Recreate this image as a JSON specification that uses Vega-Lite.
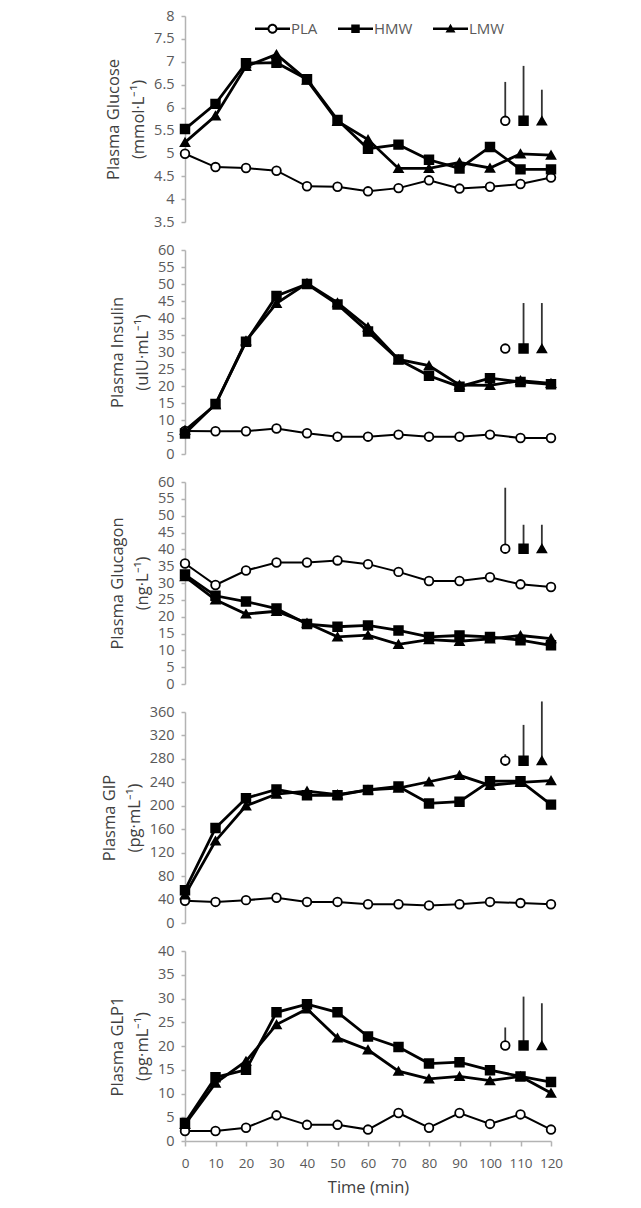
{
  "$schema": "https://vega.github.io/schema/vega-lite/v6.json",
  "background": "white",
  "padding": {"left": 101, "top": 8, "right": 5, "bottom": 5},
  "bounds": "flush",
  "spacing": 28,
  "datasets": {
    "main": [
      {"p":"glu","t":0,"PLA":4.99,"HMW":5.53,"LMW":5.24},
      {"p":"glu","t":10,"PLA":4.70,"HMW":6.08,"LMW":5.82},
      {"p":"glu","t":20,"PLA":4.68,"HMW":6.97,"LMW":6.90},
      {"p":"glu","t":30,"PLA":4.62,"HMW":6.98,"LMW":7.16},
      {"p":"glu","t":40,"PLA":4.28,"HMW":6.62,"LMW":6.60},
      {"p":"glu","t":50,"PLA":4.27,"HMW":5.73,"LMW":5.70},
      {"p":"glu","t":60,"PLA":4.17,"HMW":5.10,"LMW":5.30},
      {"p":"glu","t":70,"PLA":4.24,"HMW":5.19,"LMW":4.67},
      {"p":"glu","t":80,"PLA":4.41,"HMW":4.86,"LMW":4.67},
      {"p":"glu","t":90,"PLA":4.23,"HMW":4.67,"LMW":4.80},
      {"p":"glu","t":100,"PLA":4.27,"HMW":5.14,"LMW":4.68},
      {"p":"glu","t":110,"PLA":4.33,"HMW":4.65,"LMW":4.99},
      {"p":"glu","t":120,"PLA":4.47,"HMW":4.65,"LMW":4.96},
      {"p":"ins","t":0,"PLA":6.8,"HMW":6.0,"LMW":7.0},
      {"p":"ins","t":10,"PLA":6.7,"HMW":14.7,"LMW":14.5},
      {"p":"ins","t":20,"PLA":6.7,"HMW":33.0,"LMW":33.3},
      {"p":"ins","t":30,"PLA":7.5,"HMW":46.5,"LMW":44.3},
      {"p":"ins","t":40,"PLA":6.1,"HMW":50.0,"LMW":50.2},
      {"p":"ins","t":50,"PLA":5.1,"HMW":44.0,"LMW":44.5},
      {"p":"ins","t":60,"PLA":5.1,"HMW":36.0,"LMW":37.3},
      {"p":"ins","t":70,"PLA":5.7,"HMW":27.8,"LMW":27.8},
      {"p":"ins","t":80,"PLA":5.1,"HMW":23.0,"LMW":26.0},
      {"p":"ins","t":90,"PLA":5.1,"HMW":19.8,"LMW":20.3},
      {"p":"ins","t":100,"PLA":5.7,"HMW":22.3,"LMW":20.2},
      {"p":"ins","t":110,"PLA":4.7,"HMW":21.2,"LMW":21.6},
      {"p":"ins","t":120,"PLA":4.7,"HMW":20.5,"LMW":20.8},
      {"p":"gcg","t":0,"PLA":35.8,"HMW":32.5,"LMW":31.9},
      {"p":"gcg","t":10,"PLA":29.4,"HMW":26.2,"LMW":25.0},
      {"p":"gcg","t":20,"PLA":33.7,"HMW":24.5,"LMW":20.8},
      {"p":"gcg","t":30,"PLA":36.1,"HMW":22.4,"LMW":21.6},
      {"p":"gcg","t":40,"PLA":36.1,"HMW":17.8,"LMW":18.1},
      {"p":"gcg","t":50,"PLA":36.7,"HMW":17.0,"LMW":14.0},
      {"p":"gcg","t":60,"PLA":35.6,"HMW":17.4,"LMW":14.5},
      {"p":"gcg","t":70,"PLA":33.3,"HMW":15.9,"LMW":11.8},
      {"p":"gcg","t":80,"PLA":30.6,"HMW":14.0,"LMW":13.2},
      {"p":"gcg","t":90,"PLA":30.6,"HMW":14.4,"LMW":12.7},
      {"p":"gcg","t":100,"PLA":31.7,"HMW":14.0,"LMW":13.4},
      {"p":"gcg","t":110,"PLA":29.6,"HMW":13.0,"LMW":14.4},
      {"p":"gcg","t":120,"PLA":28.8,"HMW":11.5,"LMW":13.5},
      {"p":"gip","t":0,"PLA":38,"HMW":56,"LMW":48},
      {"p":"gip","t":10,"PLA":36,"HMW":162,"LMW":140},
      {"p":"gip","t":20,"PLA":39,"HMW":213,"LMW":200},
      {"p":"gip","t":30,"PLA":43,"HMW":228,"LMW":220},
      {"p":"gip","t":40,"PLA":36,"HMW":218,"LMW":225},
      {"p":"gip","t":50,"PLA":36,"HMW":218,"LMW":219},
      {"p":"gip","t":60,"PLA":32,"HMW":227,"LMW":227},
      {"p":"gip","t":70,"PLA":32,"HMW":233,"LMW":230},
      {"p":"gip","t":80,"PLA":30,"HMW":204,"LMW":241},
      {"p":"gip","t":90,"PLA":32,"HMW":207,"LMW":252},
      {"p":"gip","t":100,"PLA":36,"HMW":242,"LMW":235},
      {"p":"gip","t":110,"PLA":34,"HMW":242,"LMW":240},
      {"p":"gip","t":120,"PLA":32,"HMW":202,"LMW":243},
      {"p":"glp","t":0,"PLA":2.1,"HMW":3.8,"LMW":3.5},
      {"p":"glp","t":10,"PLA":2.1,"HMW":13.4,"LMW":12.2},
      {"p":"glp","t":20,"PLA":2.8,"HMW":15.0,"LMW":16.8},
      {"p":"glp","t":30,"PLA":5.4,"HMW":27.1,"LMW":24.5},
      {"p":"glp","t":40,"PLA":3.4,"HMW":28.8,"LMW":27.8},
      {"p":"glp","t":50,"PLA":3.4,"HMW":27.1,"LMW":21.7},
      {"p":"glp","t":60,"PLA":2.4,"HMW":22.0,"LMW":19.2},
      {"p":"glp","t":70,"PLA":5.9,"HMW":19.8,"LMW":14.7},
      {"p":"glp","t":80,"PLA":2.8,"HMW":16.3,"LMW":13.1},
      {"p":"glp","t":90,"PLA":5.9,"HMW":16.6,"LMW":13.6},
      {"p":"glp","t":100,"PLA":3.6,"HMW":14.9,"LMW":12.7},
      {"p":"glp","t":110,"PLA":5.6,"HMW":13.6,"LMW":13.6},
      {"p":"glp","t":120,"PLA":2.4,"HMW":12.4,"LMW":10.1}
    ],
    "err": [
      {"p":"glu","s":"PLA","t":105,"v":5.71,"top":6.56},
      {"p":"glu","s":"HMW","t":111,"v":5.71,"top":6.91},
      {"p":"glu","s":"LMW","t":117,"v":5.71,"top":6.39},
      {"p":"ins","s":"PLA","t":105,"v":31,"top":31},
      {"p":"ins","s":"HMW","t":111,"v":31,"top":44.4},
      {"p":"ins","s":"LMW","t":117,"v":31,"top":44.4},
      {"p":"gcg","s":"PLA","t":105,"v":40.2,"top":58.3},
      {"p":"gcg","s":"HMW","t":111,"v":40.2,"top":47.3},
      {"p":"gcg","s":"LMW","t":117,"v":40.2,"top":47.3},
      {"p":"gip","s":"PLA","t":105,"v":277,"top":288},
      {"p":"gip","s":"HMW","t":111,"v":277,"top":338},
      {"p":"gip","s":"LMW","t":117,"v":277,"top":378},
      {"p":"glp","s":"PLA","t":105,"v":20.1,"top":23.9},
      {"p":"glp","s":"HMW","t":111,"v":20.1,"top":30.4},
      {"p":"glp","s":"LMW","t":117,"v":20.1,"top":29}
    ]
  },
  "vconcat": [
    {
      "width": 366, "height": 206,
      "encoding": {
        "x": {"field":"t","type":"quantitative","scale":{"domain":[0,120],"nice":false},"axis":null},
        "y": {"field":"v","type":"quantitative","scale":{"domain":[3.5,8],"nice":false,"zero":false},
              "axis":{"values":[3.5,4,4.5,5,5.5,6,6.5,7,7.5,8],"format":"~g","title":["Plasma Glucose","(mmol·L⁻¹)"]}}
      },
      "layer": [
        {"data":{"name":"main"},"transform":[{"filter":"datum.p === 'glu'"},{"fold":["PLA","HMW","LMW"],"as":["s","v"]}],
         "mark":{"type":"point","filled":true,"color":"black","strokeWidth":0,"size":75,"opacity":0},
         "encoding":{
           "shape":{"field":"s","type":"nominal","scale":{"domain":["PLA","HMW","LMW"],
              "range":["M-3.5,-0.25H-0.9V0.25H-3.5ZM0.9,-0.25H3.5V0.25H0.9ZM1,0A1,1,0,1,1,-1,0A1,1,0,1,1,1,0ZM0.62,0A0.62,0.62,0,1,0,-0.62,0A0.62,0.62,0,1,0,0.62,0Z",
                       "M-3.5,-0.25H3.5V0.25H-3.5ZM-0.85,-0.85H0.85V0.85H-0.85Z",
                       "M-3.5,-0.25H3.5V0.25H-3.5ZM0,-1L1,0.75H-1Z"]},
             "legend":{"orient":"none","legendX":80,"legendY":5,"direction":"horizontal","title":null,
               "symbolSize":100,"symbolStrokeWidth":0,"symbolOpacity":1,"symbolFillColor":"black",
               "labelFont":"Open Sans","labelFontSize":15,"labelColor":"#595959","labelOffset":11,"columnPadding":20}}}},
        {"data":{"name":"main"},"transform":[{"filter":"datum.p === 'glu'"},{"fold":["PLA","HMW","LMW"],"as":["s","v"]}],
         "mark":{"type":"line","color":"black"},
         "encoding":{"detail":{"field":"s"},"strokeWidth":{"condition":{"test":"datum.s === 'PLA'","value":2},"value":2.8}}},
        {"data":{"name":"main"},"transform":[{"filter":"datum.p === 'glu'"},{"fold":["PLA","HMW","LMW"],"as":["s","v"]}],
         "mark":{"type":"point","size":75,"stroke":"black","strokeWidth":1.8,"opacity":1},
         "encoding":{
           "shape":{"field":"s","type":"nominal","scale":{"domain":["PLA","HMW","LMW"],"range":["circle","square","triangle-up"]},"legend":null},
           "fill":{"condition":{"test":"datum.s === 'PLA'","value":"white"},"value":"black"}}},
        {"data":{"name":"err"},"transform":[{"filter":"datum.p === 'glu'"}],
         "mark":{"type":"rule","color":"#333333","strokeWidth":1.8},
         "encoding":{"y2":{"field":"top"}}},
        {"data":{"name":"err"},"transform":[{"filter":"datum.p === 'glu'"}],
         "mark":{"type":"point","size":75,"stroke":"black","strokeWidth":1.8,"opacity":1},
         "encoding":{
           "shape":{"field":"s","type":"nominal","scale":{"domain":["PLA","HMW","LMW"],"range":["circle","square","triangle-up"]},"legend":null},
           "fill":{"condition":{"test":"datum.s === 'PLA'","value":"white"},"value":"black"}}}
      ],
      "resolve": {"scale": {"shape": "independent"}}
    },
    {
      "width": 366, "height": 204,
      "encoding": {
        "x": {"field":"t","type":"quantitative","scale":{"domain":[0,120],"nice":false},"axis":null},
        "y": {"field":"v","type":"quantitative","scale":{"domain":[0,60],"nice":false},
              "axis":{"values":[0,5,10,15,20,25,30,35,40,45,50,55,60],"title":["Plasma Insulin","(uIU·mL⁻¹)"]}}
      },
      "layer": [
        {"data":{"name":"main"},"transform":[{"filter":"datum.p === 'ins'"},{"fold":["PLA","HMW","LMW"],"as":["s","v"]}],
         "mark":{"type":"line","color":"black"},
         "encoding":{"detail":{"field":"s"},"strokeWidth":{"condition":{"test":"datum.s === 'PLA'","value":2},"value":2.8}}},
        {"data":{"name":"main"},"transform":[{"filter":"datum.p === 'ins'"},{"fold":["PLA","HMW","LMW"],"as":["s","v"]}],
         "mark":{"type":"point","size":75,"stroke":"black","strokeWidth":1.8,"opacity":1},
         "encoding":{
           "shape":{"field":"s","type":"nominal","scale":{"domain":["PLA","HMW","LMW"],"range":["circle","square","triangle-up"]},"legend":null},
           "fill":{"condition":{"test":"datum.s === 'PLA'","value":"white"},"value":"black"}}},
        {"data":{"name":"err"},"transform":[{"filter":"datum.p === 'ins'"}],
         "mark":{"type":"rule","color":"#333333","strokeWidth":1.8},
         "encoding":{"y2":{"field":"top"}}},
        {"data":{"name":"err"},"transform":[{"filter":"datum.p === 'ins'"}],
         "mark":{"type":"point","size":75,"stroke":"black","strokeWidth":1.8,"opacity":1},
         "encoding":{
           "shape":{"field":"s","type":"nominal","scale":{"domain":["PLA","HMW","LMW"],"range":["circle","square","triangle-up"]},"legend":null},
           "fill":{"condition":{"test":"datum.s === 'PLA'","value":"white"},"value":"black"}}}
      ]
    },
    {
      "width": 366, "height": 202,
      "encoding": {
        "x": {"field":"t","type":"quantitative","scale":{"domain":[0,120],"nice":false},"axis":null},
        "y": {"field":"v","type":"quantitative","scale":{"domain":[0,60],"nice":false},
              "axis":{"values":[0,5,10,15,20,25,30,35,40,45,50,55,60],"title":["Plasma Glucagon","(ng·L⁻¹)"]}}
      },
      "layer": [
        {"data":{"name":"main"},"transform":[{"filter":"datum.p === 'gcg'"},{"fold":["PLA","HMW","LMW"],"as":["s","v"]}],
         "mark":{"type":"line","color":"black"},
         "encoding":{"detail":{"field":"s"},"strokeWidth":{"condition":{"test":"datum.s === 'PLA'","value":2},"value":2.8}}},
        {"data":{"name":"main"},"transform":[{"filter":"datum.p === 'gcg'"},{"fold":["PLA","HMW","LMW"],"as":["s","v"]}],
         "mark":{"type":"point","size":75,"stroke":"black","strokeWidth":1.8,"opacity":1},
         "encoding":{
           "shape":{"field":"s","type":"nominal","scale":{"domain":["PLA","HMW","LMW"],"range":["circle","square","triangle-up"]},"legend":null},
           "fill":{"condition":{"test":"datum.s === 'PLA'","value":"white"},"value":"black"}}},
        {"data":{"name":"err"},"transform":[{"filter":"datum.p === 'gcg'"}],
         "mark":{"type":"rule","color":"#333333","strokeWidth":1.8},
         "encoding":{"y2":{"field":"top"}}},
        {"data":{"name":"err"},"transform":[{"filter":"datum.p === 'gcg'"}],
         "mark":{"type":"point","size":75,"stroke":"black","strokeWidth":1.8,"opacity":1},
         "encoding":{
           "shape":{"field":"s","type":"nominal","scale":{"domain":["PLA","HMW","LMW"],"range":["circle","square","triangle-up"]},"legend":null},
           "fill":{"condition":{"test":"datum.s === 'PLA'","value":"white"},"value":"black"}}}
      ]
    },
    {
      "width": 366, "height": 211,
      "encoding": {
        "x": {"field":"t","type":"quantitative","scale":{"domain":[0,120],"nice":false},"axis":null},
        "y": {"field":"v","type":"quantitative","scale":{"domain":[0,360],"nice":false},
              "axis":{"values":[0,40,80,120,160,200,240,280,320,360],"title":["Plasma GIP","(pg·mL⁻¹)"]}}
      },
      "layer": [
        {"data":{"name":"main"},"transform":[{"filter":"datum.p === 'gip'"},{"fold":["PLA","HMW","LMW"],"as":["s","v"]}],
         "mark":{"type":"line","color":"black"},
         "encoding":{"detail":{"field":"s"},"strokeWidth":{"condition":{"test":"datum.s === 'PLA'","value":2},"value":2.8}}},
        {"data":{"name":"main"},"transform":[{"filter":"datum.p === 'gip'"},{"fold":["PLA","HMW","LMW"],"as":["s","v"]}],
         "mark":{"type":"point","size":75,"stroke":"black","strokeWidth":1.8,"opacity":1},
         "encoding":{
           "shape":{"field":"s","type":"nominal","scale":{"domain":["PLA","HMW","LMW"],"range":["circle","square","triangle-up"]},"legend":null},
           "fill":{"condition":{"test":"datum.s === 'PLA'","value":"white"},"value":"black"}}},
        {"data":{"name":"err"},"transform":[{"filter":"datum.p === 'gip'"}],
         "mark":{"type":"rule","color":"#333333","strokeWidth":1.8},
         "encoding":{"y2":{"field":"top"}}},
        {"data":{"name":"err"},"transform":[{"filter":"datum.p === 'gip'"}],
         "mark":{"type":"point","size":75,"stroke":"black","strokeWidth":1.8,"opacity":1},
         "encoding":{
           "shape":{"field":"s","type":"nominal","scale":{"domain":["PLA","HMW","LMW"],"range":["circle","square","triangle-up"]},"legend":null},
           "fill":{"condition":{"test":"datum.s === 'PLA'","value":"white"},"value":"black"}}}
      ]
    },
    {
      "width": 366, "height": 190,
      "encoding": {
        "x": {"field":"t","type":"quantitative","scale":{"domain":[0,120],"nice":false},
              "axis":{"values":[0,10,20,30,40,50,60,70,80,90,100,110,120],"title":"Time (min)","labelFlush":false,"tickSize":5,"labelPadding":10,"titlePadding":10,"labelFontSize":13.5}},
        "y": {"field":"v","type":"quantitative","scale":{"domain":[0,40],"nice":false},
              "axis":{"values":[0,5,10,15,20,25,30,35,40],"title":["Plasma GLP1","(pg·mL⁻¹)"]}}
      },
      "layer": [
        {"data":{"name":"main"},"transform":[{"filter":"datum.p === 'glp'"},{"fold":["PLA","HMW","LMW"],"as":["s","v"]}],
         "mark":{"type":"line","color":"black"},
         "encoding":{"detail":{"field":"s"},"strokeWidth":{"condition":{"test":"datum.s === 'PLA'","value":2},"value":2.8}}},
        {"data":{"name":"main"},"transform":[{"filter":"datum.p === 'glp'"},{"fold":["PLA","HMW","LMW"],"as":["s","v"]}],
         "mark":{"type":"point","size":75,"stroke":"black","strokeWidth":1.8,"opacity":1},
         "encoding":{
           "shape":{"field":"s","type":"nominal","scale":{"domain":["PLA","HMW","LMW"],"range":["circle","square","triangle-up"]},"legend":null},
           "fill":{"condition":{"test":"datum.s === 'PLA'","value":"white"},"value":"black"}}},
        {"data":{"name":"err"},"transform":[{"filter":"datum.p === 'glp'"}],
         "mark":{"type":"rule","color":"#333333","strokeWidth":1.8},
         "encoding":{"y2":{"field":"top"}}},
        {"data":{"name":"err"},"transform":[{"filter":"datum.p === 'glp'"}],
         "mark":{"type":"point","size":75,"stroke":"black","strokeWidth":1.8,"opacity":1},
         "encoding":{
           "shape":{"field":"s","type":"nominal","scale":{"domain":["PLA","HMW","LMW"],"range":["circle","square","triangle-up"]},"legend":null},
           "fill":{"condition":{"test":"datum.s === 'PLA'","value":"white"},"value":"black"}}}
      ]
    }
  ],
  "resolve": {"scale": {"x":"independent","y":"independent","shape":"independent"}},
  "config": {
    "view": {"stroke": null},
    "axis": {
      "grid": false,
      "labelFont": "Open Sans", "labelFontSize": 14.5, "labelColor": "#595959", "labelOverlap": false,
      "titleFont": "Open Sans", "titleFontSize": 16.5, "titleFontWeight": "normal", "titleColor": "#404040",
      "titleLineHeight": 25,
      "domainColor": "#b3b3b3", "tickColor": "#b3b3b3", "domainWidth": 1.5, "tickWidth": 1.5,
      "tickSize": 4, "labelPadding": 7, "titlePadding": 7
    }
  }
}
